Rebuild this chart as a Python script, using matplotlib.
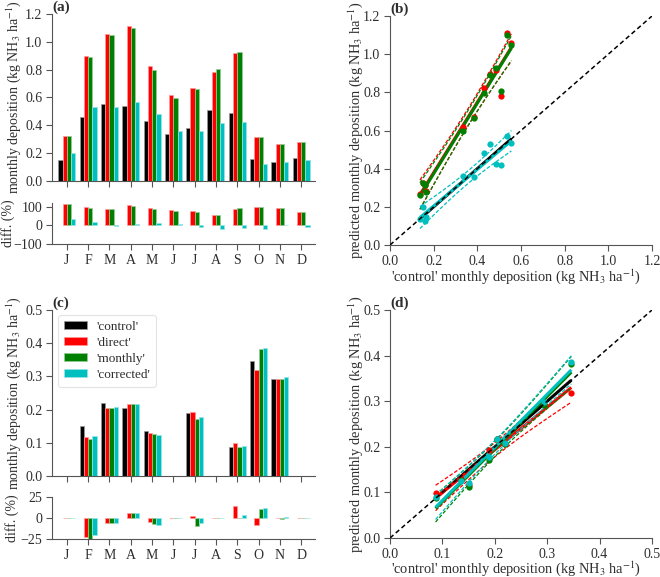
import numpy as np
import matplotlib
matplotlib.use("Agg")
import matplotlib.pyplot as plt
from matplotlib.colors import to_rgba

plt.rcParams['font.family'] = ['Liberation Serif', 'DejaVu Serif']
plt.rcParams['mathtext.fontset'] = 'stix'
plt.rcParams['font.size'] = 10

TXT = '#2e2e2e'
SPN = '#555555'
plt.rcParams['text.color'] = TXT
plt.rcParams['axes.labelcolor'] = TXT
plt.rcParams['xtick.color'] = SPN
plt.rcParams['ytick.color'] = SPN
plt.rcParams['xtick.labelcolor'] = TXT
plt.rcParams['ytick.labelcolor'] = TXT
plt.rcParams['axes.edgecolor'] = SPN

months = ['J', 'F', 'M', 'A', 'M', 'J', 'J', 'A', 'S', 'O', 'N', 'D']
series = ["'control'", "'direct'", "'monthly'", "'corrected'"]
colors = ['k', 'r', 'g', 'c']

# Panel (a)/(b) data
a_control   = [0.151, 0.457, 0.556, 0.537, 0.431, 0.335, 0.383, 0.510, 0.486, 0.160, 0.137, 0.165]
a_direct    = [0.326, 0.898, 1.056, 1.111, 0.824, 0.620, 0.671, 0.783, 0.917, 0.316, 0.268, 0.283]
a_monthly   = [0.323, 0.891, 1.049, 1.099, 0.798, 0.599, 0.663, 0.805, 0.927, 0.314, 0.263, 0.280]
a_corrected = [0.201, 0.529, 0.532, 0.570, 0.481, 0.362, 0.357, 0.417, 0.424, 0.125, 0.137, 0.149]

# Panel (c)/(d) data (nan = no data)
nan = np.nan
c_control   = [nan, 0.151, 0.220, 0.205, 0.136, nan, 0.189, nan, 0.087, 0.346, 0.293, nan]
c_direct    = [nan, 0.116, 0.206, 0.218, 0.129, nan, 0.193, nan, 0.099, 0.319, 0.293, nan]
c_monthly   = [nan, 0.112, 0.206, 0.217, 0.127, nan, 0.171, nan, 0.087, 0.382, 0.291, nan]
c_corrected = [nan, 0.120, 0.208, 0.217, 0.125, nan, 0.178, nan, 0.090, 0.386, 0.298, nan]

T95 = {4: 2.776, 5: 2.571, 6: 2.447, 7: 2.365, 8: 2.306, 9: 2.262, 10: 2.228}

W, H = 660, 577
fig = plt.figure(figsize=(W / 100, H / 100), dpi=100)


def rect(l, t, r, b):
    return [l / W, 1 - b / H, (r - l) / W, (b - t) / H]


ax_a = fig.add_axes(rect(52, 14, 315, 181))
ax_ad = fig.add_axes(rect(52, 203, 315, 244))
ax_b = fig.add_axes(rect(390, 16, 652, 245))
ax_c = fig.add_axes(rect(52, 310, 315, 476))
ax_cd = fig.add_axes(rect(52, 497, 315, 539))
ax_d = fig.add_axes(rect(390, 310, 652, 538))

ylab = 'monthly deposition (kg NH$_3$ ha$^{-1}$)'
LAB_FS = 10.4
BAR_LAB_FS = 10


def style(ax):
    for s in ['top', 'right']:
        ax.spines[s].set_visible(False)
    ax.tick_params(direction='out', length=4, width=0.8, pad=3)


def edge(c):
    r, g, b, _ = to_rgba(c)
    return (r + (1 - r) * 0.6, g + (1 - g) * 0.6, b + (1 - b) * 0.6, 1)


def bars(ax_main, ax_diff, data, ymax, yticks, dlim, dticks, lab_x, legend=False):
    x = np.arange(12)
    offs = [-0.3, -0.1, 0.1, 0.3]
    ctrl = np.array(data[0], dtype=float)
    for i, (vals, col, lab) in enumerate(zip(data, colors, series)):
        v = np.array(vals, dtype=float)
        ax_main.bar(x + offs[i], v, width=0.2, color=col, label=lab,
                    edgecolor=edge(col), linewidth=0.5)
        if i > 0:
            d = (v - ctrl) / ctrl * 100
            d = np.nan_to_num(d, nan=0.0)
            ax_diff.bar(x + offs[i], d, width=0.2, color=col,
                        edgecolor=edge(col), linewidth=0.5)
    for ax in (ax_main, ax_diff):
        style(ax)
        ax.set_xlim(-0.7, 11.65)
        ax.set_xticks(x)
    ax_main.set_xticklabels([])
    ax_diff.set_xticklabels(months)
    ax_main.set_ylim(0, ymax)
    ax_main.set_yticks(yticks)
    ax_main.set_yticklabels([f'{t:.1f}' for t in yticks])
    ax_diff.set_ylim(*dlim)
    ax_diff.set_yticks(dticks)
    ax_diff.set_yticklabels([str(t).replace('-', '\u2212') for t in dticks])
    ax_main.set_ylabel(ylab, fontsize=BAR_LAB_FS)
    ax_diff.set_ylabel('diff. (%)', fontsize=BAR_LAB_FS)
    ax_main.yaxis.set_label_coords(lab_x[0], 0.5)
    ax_diff.yaxis.set_label_coords(lab_x[1], 0.5)
    if legend:
        leg = ax_main.legend(loc='upper left', bbox_to_anchor=(0.023, 0.97),
                             borderaxespad=0, frameon=True, fontsize=9.5,
                             handlelength=1.75, handleheight=0.5,
                             handletextpad=0.7, borderpad=0.45,
                             labelspacing=0.3)
        leg.get_frame().set_edgecolor('#dddddd')
        leg.get_frame().set_linewidth(0.8)


bars(ax_a, ax_ad, [a_control, a_direct, a_monthly, a_corrected], 1.2,
     [0.0, 0.2, 0.4, 0.6, 0.8, 1.0, 1.2], (-100, 120), [-100, 0, 100],
     (-0.110, -0.142))
bars(ax_c, ax_cd, [c_control, c_direct, c_monthly, c_corrected], 0.5,
     [0.0, 0.1, 0.2, 0.3, 0.4, 0.5], (-25, 25), [-25, 0, 25],
     (-0.110, -0.125), legend=True)


def scatter_panel(ax, data, lim, ticks, xlab_y):
    ctrl = np.array(data[0], dtype=float)
    m = ~np.isnan(ctrl)
    xc = ctrl[m]
    n = len(xc)
    t = T95[n - 2]
    xs = np.linspace(xc.min(), xc.max(), 100)
    for i in range(4):
        y = np.array(data[i], dtype=float)[m]
        col = colors[i]
        b1, b0 = np.polyfit(xc, y, 1)
        fit = b0 + b1 * xs
        res = y - (b0 + b1 * xc)
        s = np.sqrt(np.sum(res ** 2) / (n - 2))
        sxx = np.sum((xc - xc.mean()) ** 2)
        se = s * np.sqrt(1.0 / n + (xs - xc.mean()) ** 2 / sxx)
        ax.plot(xs, fit, color=col, lw=2.2, solid_capstyle='butt', zorder=3)
        if i > 0:
            ax.plot(xs, fit + t * se, color=col, lw=0.9, ls=(0, (3, 1.5)), zorder=3)
            ax.plot(xs, fit - t * se, color=col, lw=0.9, ls=(0, (3, 1.5)), zorder=3)
            ax.plot(xc, y, 'o', color=col, ms=4.5, mec='none', zorder=4)
    ax.plot([0, lim], [0, lim], color='k', lw=1.1, ls=(0, (3, 2)), zorder=5)
    style(ax)
    ax.set_xlim(0, lim)
    ax.set_ylim(0, lim)
    ax.set_xticks(ticks)
    ax.set_yticks(ticks)
    ax.set_xticklabels([f'{v:.1f}' for v in ticks])
    ax.set_yticklabels([f'{v:.1f}' for v in ticks])
    ax.set_xlabel("'control' " + ylab, fontsize=LAB_FS)
    ax.set_ylabel('predicted ' + ylab, fontsize=LAB_FS)
    ax.yaxis.set_label_coords(-0.097, 0.5)
    ax.xaxis.set_label_coords(0.48, xlab_y)


scatter_panel(ax_b, [a_control, a_direct, a_monthly, a_corrected], 1.2,
              [0.0, 0.2, 0.4, 0.6, 0.8, 1.0, 1.2], -0.095)
scatter_panel(ax_d, [c_control, c_direct, c_monthly, c_corrected], 0.5,
              [0.0, 0.1, 0.2, 0.3, 0.4, 0.5], -0.093)

for ax, lab in [(ax_a, '(a)'), (ax_b, '(b)'), (ax_c, '(c)'), (ax_d, '(d)')]:
    ax.annotate(lab, xy=(0, 1), xycoords='axes fraction', xytext=(0.5, 5),
                textcoords='offset points', fontsize=11, fontweight='bold',
                va='center', ha='left', color=TXT)

fig.savefig('out.png', dpi=100)
